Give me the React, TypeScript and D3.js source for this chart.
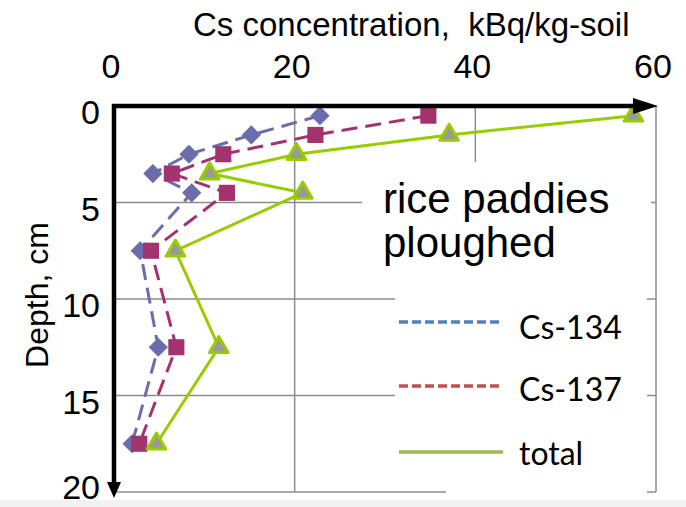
import React from "react";
import * as d3 from "d3";

const depths = [0.5, 1.5, 2.5, 3.5, 4.5, 7.5, 12.5, 17.5];
const cs134 = [22.8, 15.2, 8.3, 4.3, 8.6, 2.9, 4.9, 2.0];
const cs137 = [34.8, 22.3, 12.1, 6.4, 12.5, 4.1, 6.9, 2.8];
const total = [57.5, 37.1, 20.2, 10.6, 20.9, 6.8, 11.6, 4.7];
const xTicks = [0, 20, 40, 60];
const yTicks = [0, 5, 10, 15, 20];
const legendLabels = ["Cs-134", "Cs-137", "total"];

const W = 686;
const H = 507;

export default function App() {
  const x = d3.scaleLinear().domain([0, 60]).range([114, 656]);
  const y = d3.scaleLinear().domain([0, 20]).range([106, 492]);

  const line = d3
    .line<number>()
    .x((v) => x(v))
    .y((_, i) => y(depths[i]));

  const diamond = d3.symbol(d3.symbolSquare, 185)();
  const square = d3.symbol(d3.symbolSquare, 260)();
  const triangle = d3.symbol(d3.symbolTriangle, 150)();

  const c134 = "#6a6cac";
  const c137 = "#a2336f";
  const cTot = "#99cc00";
  const grid = "#8c8c8c";
  const font = "'Liberation Sans', Arial, sans-serif";

  return (
    <svg
      width={W}
      height={H}
      style={{ position: "absolute", left: 0, top: 0, background: "#fff" }}
    >
      <rect x={0} y={0} width={W} height={H} fill="#fff" />
      <rect x={0} y={500} width={W} height={7} fill="#f2f2f2" />

      {/* grid */}
      {[20, 40].map((t) => (
        <line key={"vx" + t} x1={x(t)} x2={x(t)} y1={y(0)} y2={y(20)} stroke={grid} strokeWidth={1.5} />
      ))}
      {yTicks.slice(1).map((t) => (
        <line key={"hy" + t} x1={x(0)} x2={x(60)} y1={y(t)} y2={y(t)} stroke={grid} strokeWidth={1.5} />
      ))}
      <line x1={x(60)} x2={x(60)} y1={y(0)} y2={y(20)} stroke={grid} strokeWidth={1.5} />

      {/* white boxes for annotation and legend */}
      <rect x={362} y={162} width={289} height={128} fill="#fff" />
      <rect x={395} y={290} width={252} height={198} fill="#fff" />
      <rect x={446} y={486} width={201} height={10} fill="#fff" />

      {/* Cs-134 */}
      <path d={line(cs134) || ""} fill="none" stroke={c134} strokeWidth={3} strokeDasharray="16,8" />
      {cs134.map((v, i) => (
        <path key={"d" + i} d={diamond || ""} transform={`translate(${x(v)},${y(depths[i])}) rotate(45)`} fill={c134} />
      ))}

      {/* Cs-137 */}
      <path d={line(cs137) || ""} fill="none" stroke={c137} strokeWidth={3} strokeDasharray="16,8" />
      {cs137.map((v, i) => (
        <path key={"s" + i} d={square || ""} transform={`translate(${x(v)},${y(depths[i])})`} fill={c137} />
      ))}

      {/* total */}
      <path d={line(total) || ""} fill="none" stroke={cTot} strokeWidth={3} />
      {total.map((v, i) => (
        <path
          key={"t" + i}
          d={triangle || ""}
          transform={`translate(${x(v)},${y(depths[i])})`}
          fill="#999999"
          stroke={cTot}
          strokeWidth={3}
          strokeLinejoin="round"
        />
      ))}

      {/* axes arrows */}
      <line x1={x(0) - 2} x2={640} y1={y(0)} y2={y(0)} stroke="#000" strokeWidth={4.5} />
      <polygon points={`658,${y(0)} 633,${y(0) - 8} 633,${y(0) + 8}`} fill="#000" />
      <line x1={x(0)} x2={x(0)} y1={y(0) - 2} y2={486} stroke="#000" strokeWidth={4.5} />
      <polygon points={`${x(0)},498 ${x(0) - 7},482 ${x(0) + 7},482`} fill="#000" />

      {/* x ticks */}
      {xTicks.map((t) => (
        <text key={"xt" + t} x={x(t) - 3} y={78} textAnchor="middle" fontFamily={font} fontSize={34} fill="#000">
          {t}
        </text>
      ))}
      {/* y ticks */}
      {yTicks.map((t) => (
        <text
          key={"yt" + t}
          x={100}
          y={Math.min(y(t) + 18, H - 8)}
          textAnchor="end"
          fontFamily={font}
          fontSize={34}
          fill="#000"
        >
          {t}
        </text>
      ))}

      <text x={193} y={36} fontFamily={font} fontSize={33} fill="#000" style={{ whiteSpace: "pre" }}>
        {"Cs concentration,  kBq/kg-soil"}
      </text>
      <text
        transform={`translate(48,295) rotate(-90)`}
        textAnchor="middle"
        fontFamily={font}
        fontSize={32}
        fill="#000"
      >
        Depth, cm
      </text>

      <text x={383} y={213} fontFamily={font} fontSize={42} fill="#000">
        rice paddies
      </text>
      <text x={383} y={257} fontFamily={font} fontSize={42} fill="#000">
        ploughed
      </text>

      {/* legend */}
      <line x1={399} x2={503} y1={322} y2={322} stroke="#4f81bd" strokeWidth={3.5} strokeDasharray="9,4" />
      <line x1={399} x2={503} y1={386} y2={386} stroke="#c0504d" strokeWidth={3.5} strokeDasharray="9,4" />
      <line x1={399} x2={503} y1={452} y2={452} stroke="#9bbb59" strokeWidth={3.5} />
      {legendLabels.map((l, i) => (
        <text key={l} x={519} y={[339, 401, 465][i]} fontFamily="Lato, 'Open Sans', sans-serif" fontSize={32} fill="#000">
          {l}
        </text>
      ))}
    </svg>
  );
}
